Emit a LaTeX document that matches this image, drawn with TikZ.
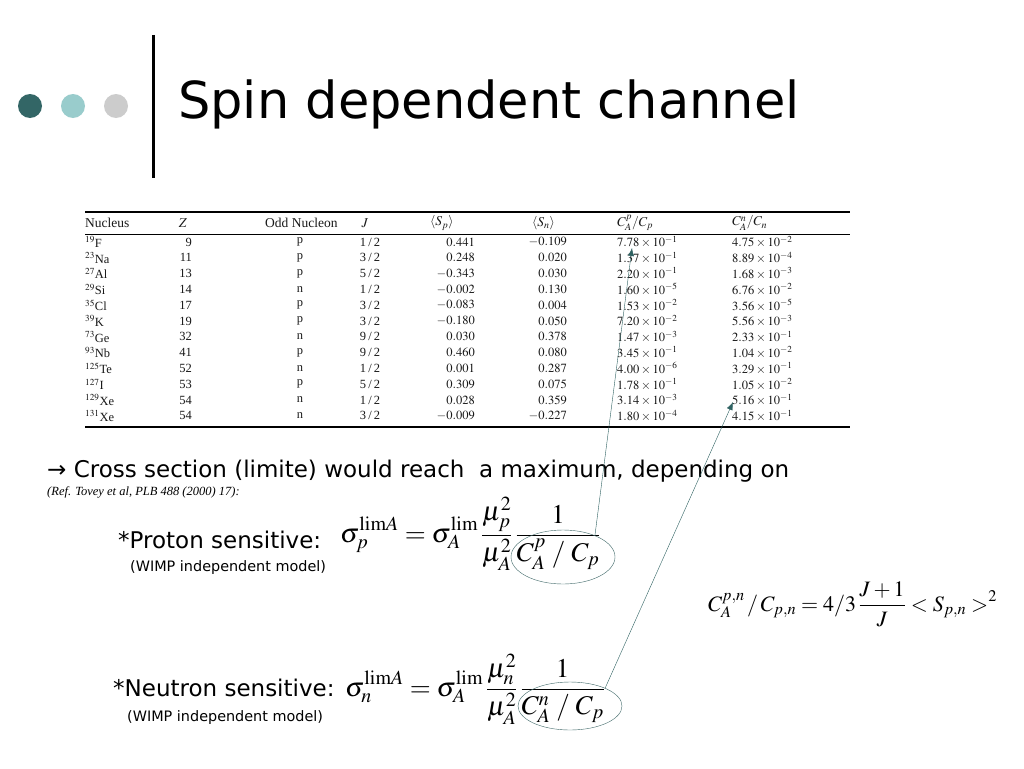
\documentclass[tikz,border=0pt]{standalone}
\usepackage{mathptmx}
\usepackage[no-math]{fontspec}
\usetikzlibrary{shapes.geometric,arrows.meta}
\newfontfamily\verd{DejaVu Sans}
\newfontfamily\tms{Liberation Serif}
\definecolor{dotdark}{HTML}{336666}
\definecolor{dotlight}{HTML}{99CCCC}
\definecolor{dotgrey}{HTML}{CCCCCC}
\definecolor{linkcol}{HTML}{2F6262}
\tikzset{
  cell/.style={inner sep=0pt, text=black!90, font=\tms\fontsize{12.5}{14}\selectfont},
  head/.style={cell, font=\tms\fontsize{13.5}{14}\selectfont},
  body/.style={inner sep=0pt, font=\verd\fontsize{#1}{#1}\selectfont},
  formula/.style={inner sep=0pt, anchor=base west, font=\fontsize{#1}{#1}\selectfont},
  ring/.style={draw=linkcol!80!gray, thin, ellipse, inner sep=0pt},
  link/.style={draw=linkcol, thin, -{Latex[length=8pt,width=6pt]}}
}
\begin{document}
\begin{tikzpicture}[x=1pt,y=-1pt]
  \useasboundingbox[fill=white] (0,0) rectangle (1024,768);

  % Title with dots and bar
  \fill[dotdark] (30,106) circle (12);
  \fill[dotlight] (73,106) circle (12);
  \fill[dotgrey] (116,106) circle (12);
  \draw[line width=3pt] (153,35) -- (153,178);
  \node[body=51, anchor=base west] (title) at (178,118) {Spin dependent channel};

  % Table rules
  \draw[line width=2pt] (85,212) -- (850,212);
  \draw[line width=0.8pt] (85,234) -- (850,234);
  \draw[line width=2.5pt] (85,427) -- (850,427);

  % Table header
  \node[head, anchor=west] (hnuc) at (85,223) {Nucleus};
  \node[head] (hz) at (183,223) {$Z$};
  \node[head, anchor=west] (hodd) at (265,223) {Odd Nucleon};
  \node[head] (hj) at (365,223) {$J$};
  \node[head, anchor=west] (hsp) at (430,223) {$\langle S_p\rangle$};
  \node[head, anchor=west] (hsn) at (532,223) {$\langle S_n\rangle$};
  \node[head, anchor=west] (hcp) at (617,223) {$C^p_A/C_p$};
  \node[head, anchor=west] (hcn) at (732,223) {$C^n_A/C_n$};

  % Table rows
  \foreach \mass/\el/\z/\odd/\j/\sp/\sn/\cpm/\cpe/\cnm/\cne [count=\i from 0] in {
      19/F/9/p/1/0.441/-0.109/7.78/-1/4.75/-2,
      23/Na/11/p/3/0.248/0.020/1.37/-1/8.89/-4,
      27/Al/13/p/5/-0.343/0.030/2.20/-1/1.68/-3,
      29/Si/14/n/1/-0.002/0.130/1.60/-5/6.76/-2,
      35/Cl/17/p/3/-0.083/0.004/1.53/-2/3.56/-5,
      39/K/19/p/3/-0.180/0.050/7.20/-2/5.56/-3,
      73/Ge/32/n/9/0.030/0.378/1.47/-3/2.33/-1,
      93/Nb/41/p/9/0.460/0.080/3.45/-1/1.04/-2,
      125/Te/52/n/1/0.001/0.287/4.00/-6/3.29/-1,
      127/I/53/p/5/0.309/0.075/1.78/-1/1.05/-2,
      129/Xe/54/n/1/0.028/0.359/3.14/-3/5.16/-1,
      131/Xe/54/n/3/-0.009/-0.227/1.80/-4/4.15/-1}{
    \node[cell, anchor=west] (nuc\i) at (85,{242+15.8*\i}) {$^{\mass}$\el};
    \node[cell, anchor=east] (z\i) at (192,{242+15.8*\i}) {\z};
    \node[cell] (odd\i) at (300,{242+15.8*\i}) {\odd};
    \node[cell] (j\i) at (370,{242+15.8*\i}) {\j\,/\,2};
    \node[cell, anchor=east] (sp\i) at (475,{242+15.8*\i}) {$\sp$};
    \node[cell, anchor=east] (sn\i) at (567,{242+15.8*\i}) {$\sn$};
    \node[cell, anchor=west] (cp\i) at (617,{242+15.8*\i}) {$\cpm\times10^{\cpe}$};
    \node[cell, anchor=west] (cn\i) at (732,{242+15.8*\i}) {$\cnm\times10^{\cne}$};
  }

  % Text lines
  \node[body=23, anchor=base west] (lead) at (47,477) {→ Cross section (limite) would reach\ \ a maximum, depending on};
  \node[inner sep=0pt, anchor=base west, font=\tms\itshape\fontsize{12.5}{13}\selectfont] (ref) at (47,495) {(Ref. Tovey et al, PLB 488 (2000) 17):};

  % Proton sensitive
  \node[body=23, anchor=base west] (plabel) at (118,548) {*Proton sensitive:};
  \node[body=14.4, anchor=base west] (pmodel) at (130,571) {(WIMP independent model)};
  \node[formula=27] (pform) at (340,542) {$\displaystyle \sigma_p^{\mathrm{lim}A} = \sigma_A^{\mathrm{lim}}\,\frac{\mu_p^2}{\mu_A^2}\,\frac{1}{C_A^p\;/\;C_p}$};

  % Neutron sensitive
  \node[body=23, anchor=base west] (nlabel) at (113,696) {*Neutron sensitive:};
  \node[body=14.4, anchor=base west] (nmodel) at (127,721) {(WIMP independent model)};
  \node[formula=27] (nform) at (345,696) {$\displaystyle \sigma_n^{\mathrm{lim}A} = \sigma_A^{\mathrm{lim}}\,\frac{\mu_n^2}{\mu_A^2}\,\frac{1}{C_A^n\;/\;C_p}$};

  % Relation for C_A
  \node[formula=22] (cform) at (708,611) {$\displaystyle C_A^{p,n}\,/\,C_{p,n} = 4/3\,\frac{J+1}{J} < S_{p,n} >^{2}$};

  % Circled denominators and arrows to the table
  \node[ring, minimum width=104, minimum height=54] (pring) at (563,557) {};
  \node[ring, minimum width=104, minimum height=48] (nring) at (570,706) {};
  \coordinate (ptip) at (632,248);
  \coordinate (ntip) at (733,402);
  \draw[link] (pring.34) -- (ptip);
  \draw[link] (nring.27) -- (ntip);
\end{tikzpicture}
\end{document}
